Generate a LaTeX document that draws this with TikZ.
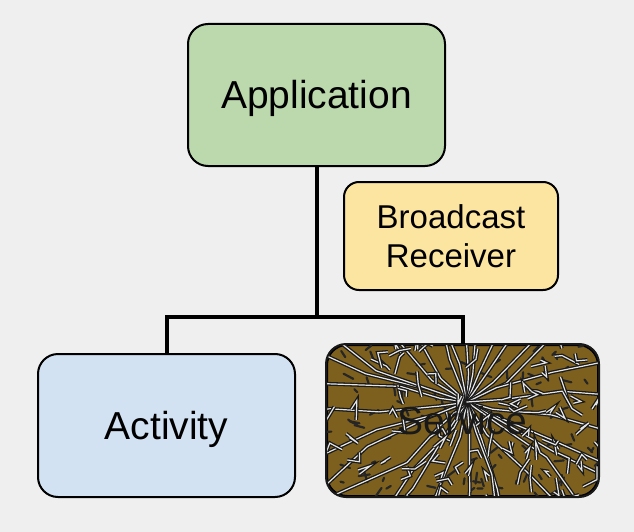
\documentclass[tikz,border=0pt]{standalone}
\usepackage{fontspec}
\setmainfont{Liberation Sans}
\usetikzlibrary{calc}
\definecolor{bggray}{HTML}{EFEFEF}
\definecolor{appgreen}{HTML}{BCD8AD}
\definecolor{rcvyellow}{HTML}{FCE5A0}
\definecolor{actblue}{HTML}{D3E2F2}
\definecolor{svcbrown}{HTML}{7D601E}
\tikzset{
    box/.style={draw=black, line width=2pt, rounded corners=20pt, align=center,
        inner sep=0pt, font=\fontsize{39}{44}\selectfont},
    bigtext/.style={text height=28pt, text depth=0pt},
    wire/.style={line width=4pt},
    crack/.style={draw=black!90, line width=1.3pt, double=white!80!gray, double distance=1.2pt},
    splinter/.style={draw=black!85, line width=2.2pt, line cap=round}
}
\begin{document}
\begin{tikzpicture}[x=1pt, y=-1pt]
    \fill[bggray] (0, 0) rectangle (634, 532);
    \useasboundingbox (0, 0) rectangle (634, 532);
    \node[box, bigtext, fill=appgreen, minimum width=257pt, minimum height=142pt] (app) at (316.5, 95) {Application};
    \node[box, fill=rcvyellow, minimum width=214pt, minimum height=108pt, rounded corners=15pt,
        font=\fontsize{33}{39}\selectfont] (rcv) at (451, 236) {Broadcast\\Receiver};
    \node[box, bigtext, fill=actblue, minimum width=257pt, minimum height=143pt] (act) at (166.5, 425.5) {Activity};
    \node[box, fill=svcbrown, minimum width=271pt, minimum height=151pt] (svc) at (462.5, 420.5) {};
    % broken glass over the service box
    \begin{scope}
        \clip[rounded corners=20pt] (svc.north west) rectangle (svc.south east);
        \pgfmathsetseed{17}
        \foreach \i in {1, ..., 90} {
            \draw[splinter] ($(svc.center) + (rnd*270 - 135, rnd*150 - 75)$) -- ++(rnd*360:3 + rnd*9);
        }
        \foreach \a in {0, 12, ..., 348} {
            \pgfmathsetmacro{\b}{\a + rnd*10}
            \draw[crack] ($(svc.center) + (4.5, -18.5)$) -- ++(\b:25 + rnd*25) -- ++(\b + rnd*24 - 12:40 + rnd*30)
                -- ++(\b + rnd*24 - 12:60 + rnd*40) -- ++(\b + rnd*30 - 15:90);
        }
        \foreach \i in {1, ..., 80} {
            \draw[crack] ($(svc.center) + (rnd*270 - 135, rnd*150 - 75)$) -- ++(rnd*360:6 + rnd*14) -- ++(rnd*360:4 + rnd*10);
        }
    \end{scope}
    \draw[line width=2pt, black!90, rounded corners=20pt] (svc.north west) rectangle (svc.south east);
    \node[bigtext, text=black!90, font=\fontsize{39}{44}\selectfont, inner sep=0pt] (svclabel) at (svc) {Service};
    \coordinate (fork) at (app.south |- 0, 317);
    \draw[wire] (app.south) -- (fork);
    \draw[wire] (act.north) |- (fork) -| (svc.north);
\end{tikzpicture}
\end{document}
